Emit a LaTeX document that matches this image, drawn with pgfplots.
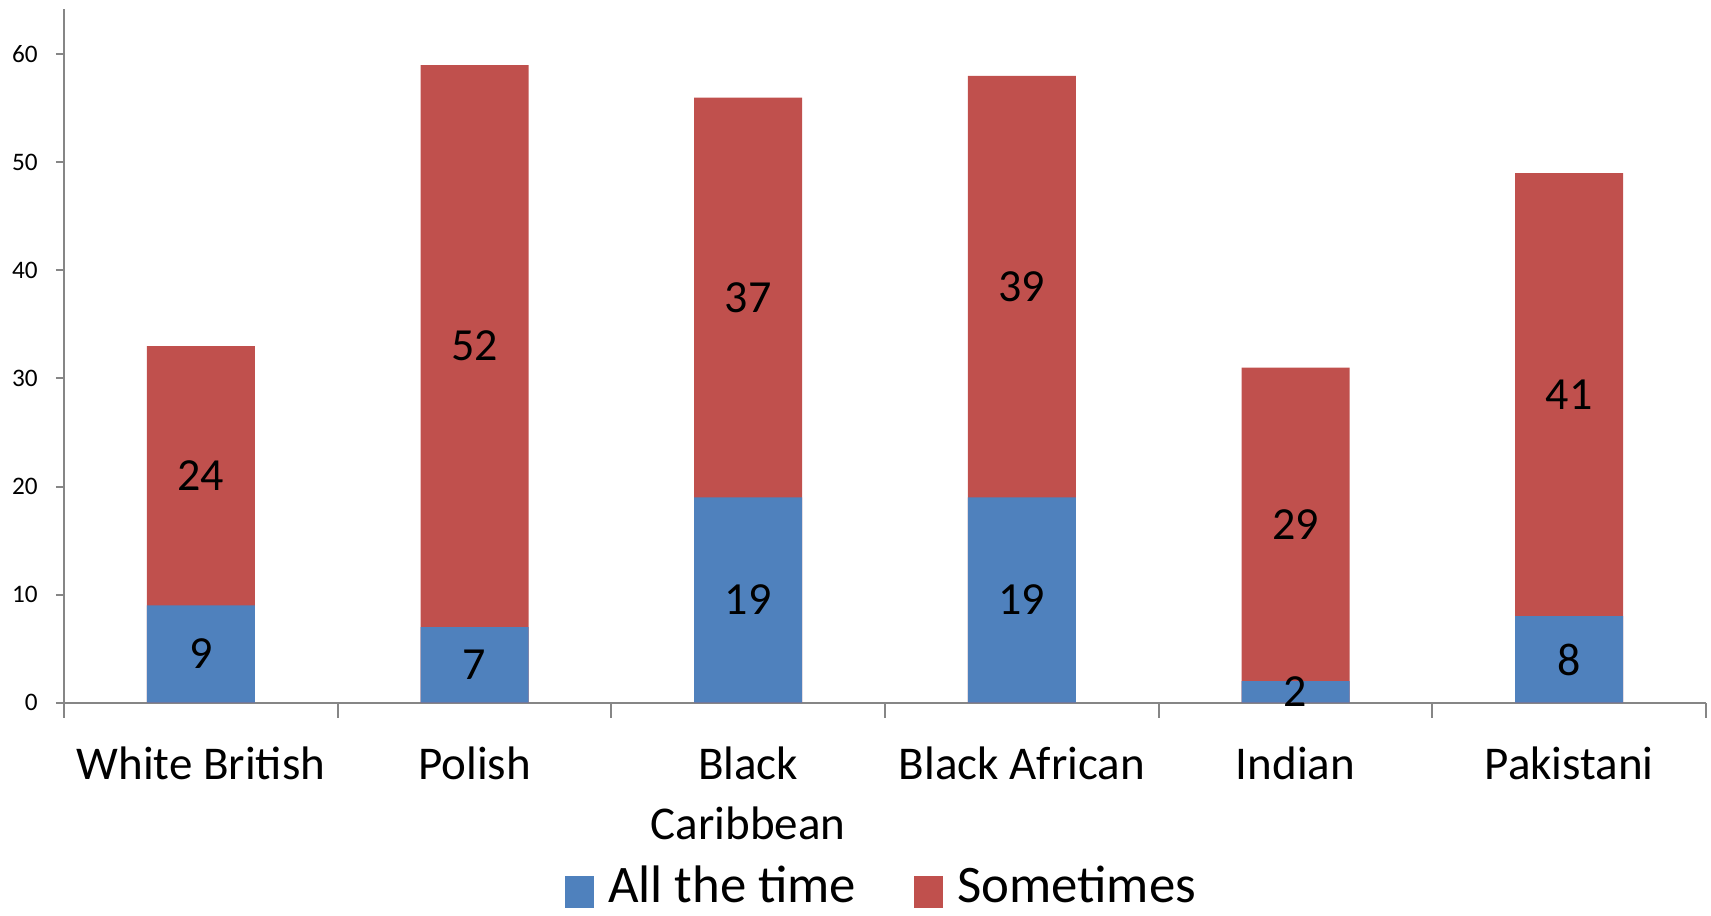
\documentclass[border=0pt]{standalone}
\usepackage{pgfplots}
\pgfplotsset{compat=1.18}
\usepackage{pgfplotstable}
\usepackage{fontspec}
\setmainfont{Carlito}
\definecolor{allblue}{HTML}{4F81BD}
\definecolor{somered}{HTML}{C0504D}
\definecolor{axgray}{HTML}{868686}
\pgfplotstableread{
x a b
0 9 24
1 7 52
2 19 37
3 19 39
4 2 29
5 8 41
}\datatable
\begin{document}
\begin{tikzpicture}
\begin{axis}[
  scale only axis,
  width=821pt, height=346.85pt,
  xmin=-0.5, xmax=5.5, ymin=0, ymax=64.19,
  clip=false,
  axis x line*=bottom, axis y line*=left,
  axis line style={-, draw=axgray, line width=1pt},
  tick align=outside,
  major tick length=4pt,
  minor tick length=7.5pt,
  tick style={draw=axgray, line width=1pt},
  xtick={0,...,5},
  xticklabels={White British, Polish, Black\\Caribbean, Black African, Indian, Pakistani},
  major x tick style={draw=none},
  minor xtick={-0.5,0.5,...,5.5},
  ytick={0,10,...,60},
  /pgf/number format/assume math mode=true,
  xticklabel style={font=\fontsize{23.5}{30}\selectfont, align=center, inner sep=0pt, anchor=north},
  yticklabel style={font=\fontsize{12.6}{15}\selectfont, inner sep=0pt, anchor=east},
  xticklabel shift=18pt,
  yticklabel shift=9pt,
  legend style={at={(0.4973,0)}, anchor=south, yshift=-102.6pt, draw=none, fill=none, inner sep=0pt,
    legend columns=2, font=\fontsize{26.4}{30}\selectfont,
    nodes={inner sep=0pt},
    /tikz/every even column/.append style={column sep=29pt},
    /tikz/every odd column/.append style={column sep=7pt}},
  legend image code/.code={\fill[#1, draw=none] (0pt,-11pt) rectangle (14.5pt,5pt);},
]
\addplot[ybar, bar width=54pt, bar shift=0pt, fill=somered, draw=none, forget plot]
  table[x=x, y expr=\thisrow{a}+\thisrow{b}] {\datatable};
\addplot[ybar, bar width=54pt, bar shift=0pt, fill=allblue, draw=none, forget plot]
  table[x=x, y=a] {\datatable};
\addplot[draw=none, mark=none, forget plot, nodes near coords, point meta=explicit symbolic,
  every node near coord/.append style={anchor=center, font=\fontsize{23}{26}\selectfont, inner sep=0pt, text=black}]
  table[x=x, y expr=\thisrow{a}/2, meta=a] {\datatable};
\addplot[draw=none, mark=none, forget plot, nodes near coords, point meta=explicit symbolic,
  every node near coord/.append style={anchor=center, font=\fontsize{23}{26}\selectfont, inner sep=0pt, text=black}]
  table[x=x, y expr=\thisrow{a}+\thisrow{b}/2, meta=b] {\datatable};
\addlegendimage{fill=allblue, draw=none}
\addlegendentry{All the time}
\addlegendimage{fill=somered, draw=none}
\addlegendentry{Sometimes}
\coordinate (O) at (rel axis cs:0,0);
\coordinate (TR) at (rel axis cs:1,1);
\end{axis}
\pgfresetboundingbox
\path ([xshift=-32pt,yshift=-106.15pt]O) rectangle ([xshift=2.5pt,yshift=4.5pt]TR);
\end{tikzpicture}
\end{document}
